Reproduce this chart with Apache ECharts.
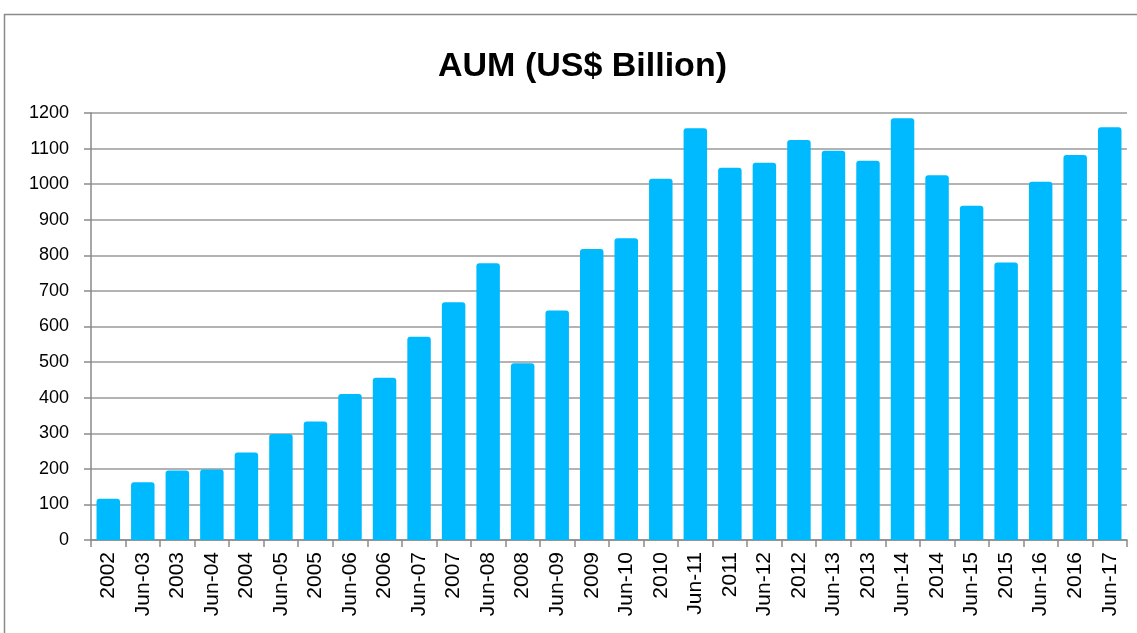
<!DOCTYPE html>
<html>
<head>
<meta charset="utf-8">
<script src="https://cdn.jsdelivr.net/npm/echarts@6/dist/echarts.min.js"></script>
<style>
html,body{margin:0;padding:0;background:#fff;}
#chart{width:1137px;height:633px;}
</style>
</head>
<body>
<div id="chart"></div>
<script>
const categories = ["2002","Jun-03","2003","Jun-04","2004","Jun-05","2005","Jun-06","2006","Jun-07","2007","Jun-08","2008","Jun-09","2009","Jun-10","2010","Jun-11","2011","Jun-12","2012","Jun-13","2013","Jun-14","2014","Jun-15","2015","Jun-16","2016","Jun-17"];
const aum = [116,162,195,198,246,298,333,410,456,571,668,778,497,645,818,848,1015,1157,1046,1060,1124,1094,1066,1185,1025,939,780,1007,1082,1160];
const yTicks = {min:0, max:1200, interval:100};

const chart = echarts.init(document.getElementById('chart'));
chart.setOption({
  animation:false,
  backgroundColor:'#fff',
  graphic:[{type:'rect',shape:{x:4.5,y:14.5,width:1140,height:640},style:{fill:'none',stroke:'#8a8a8a',lineWidth:1.5},silent:true}],
  title:{text:'AUM (US$ Billion)',left:433,top:45,textStyle:{fontFamily:'Liberation Sans',fontWeight:'bold',fontSize:34,color:'#000'}},
  grid:{left:91,right:10,top:113,bottom:93,containLabel:false},
  xAxis:{type:'category',data:categories,
    axisLine:{show:true,lineStyle:{color:'#8a8a8a',width:1.5}},
    axisTick:{show:true,alignWithLabel:false,length:7,lineStyle:{color:'#8a8a8a',width:1.5}},
    axisLabel:{rotate:90,margin:12,interval:0,fontFamily:'Liberation Sans',fontSize:21,color:'#000'}},
  yAxis:{type:'value',min:yTicks.min,max:yTicks.max,interval:yTicks.interval,
    axisLine:{show:true,lineStyle:{color:'#8a8a8a',width:1.5}},
    axisTick:{show:true,length:7,lineStyle:{color:'#8a8a8a',width:1.5}},
    splitLine:{show:true,lineStyle:{color:'#9a9a9a',width:1.5}},
    axisLabel:{margin:22,fontFamily:'Liberation Sans',fontSize:18,color:'#000',formatter:function(v){return String(v);}}},
  series:[{type:'bar',data:aum,barCategoryGap:'32%',itemStyle:{color:'#00BAFF',borderRadius:[3,3,0,0]}}]
});
</script>
</body>
</html>
